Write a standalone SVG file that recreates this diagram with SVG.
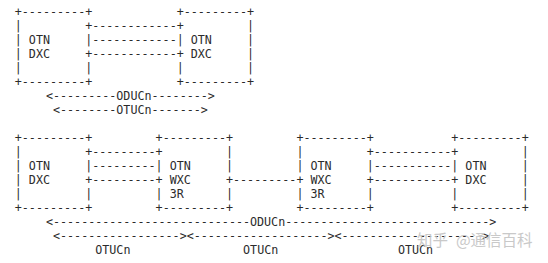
<svg xmlns="http://www.w3.org/2000/svg" width="548" height="263" viewBox="0 0 548 263">
<style>
text{font-family:"DejaVu Sans Mono","Liberation Mono",monospace;font-size:11.69px;fill:#2b2b2b;white-space:pre}
.wm{font-family:"Noto Sans CJK SC","Noto Sans",sans-serif;font-size:15.5px;fill:#c9c9c9;white-space:normal}
</style>
<rect width="548" height="263" fill="#ffffff"/>
<g id="upper-dxc-left">
<text xml:space="preserve" x="14.8" y="15.8">+---------+</text>
<text xml:space="preserve" x="14.8" y="29.8">|         +</text>
<text xml:space="preserve" x="14.8" y="43.8">| OTN     |</text>
<text xml:space="preserve" x="14.8" y="57.8">| DXC     +</text>
<text xml:space="preserve" x="14.8" y="71.8">|         |</text>
<text xml:space="preserve" x="14.8" y="85.8">+---------+</text>
</g>
<g id="upper-dxc-right">
<text xml:space="preserve" x="176.72" y="15.8">+---------+</text>
<text xml:space="preserve" x="176.72" y="29.8">+         |</text>
<text xml:space="preserve" x="176.72" y="43.8">| OTN     |</text>
<text xml:space="preserve" x="176.72" y="57.8">+ DXC     |</text>
<text xml:space="preserve" x="176.72" y="71.8">|         |</text>
<text xml:space="preserve" x="176.72" y="85.8">+---------+</text>
</g>
<g id="lower-dxc-a">
<text xml:space="preserve" x="14.8" y="141.8">+---------+</text>
<text xml:space="preserve" x="14.8" y="155.8">|         +</text>
<text xml:space="preserve" x="14.8" y="169.8">| OTN     |</text>
<text xml:space="preserve" x="14.8" y="183.8">| DXC     +</text>
<text xml:space="preserve" x="14.8" y="197.8">|         |</text>
<text xml:space="preserve" x="14.8" y="211.8">+---------+</text>
</g>
<g id="lower-wxc-b">
<text xml:space="preserve" x="155.6" y="141.8">+---------+</text>
<text xml:space="preserve" x="155.6" y="155.8">+         |</text>
<text xml:space="preserve" x="155.6" y="169.8">| OTN     |</text>
<text xml:space="preserve" x="155.6" y="183.8">+ WXC     +</text>
<text xml:space="preserve" x="155.6" y="197.8">| 3R      |</text>
<text xml:space="preserve" x="155.6" y="211.8">+---------+</text>
</g>
<g id="lower-wxc-c">
<text xml:space="preserve" x="296.4" y="141.8">+---------+</text>
<text xml:space="preserve" x="296.4" y="155.8">|         +</text>
<text xml:space="preserve" x="296.4" y="169.8">| OTN     |</text>
<text xml:space="preserve" x="296.4" y="183.8">+ WXC     +</text>
<text xml:space="preserve" x="296.4" y="197.8">| 3R      |</text>
<text xml:space="preserve" x="296.4" y="211.8">+---------+</text>
</g>
<g id="lower-dxc-d">
<text xml:space="preserve" x="451.28" y="141.8">+---------+</text>
<text xml:space="preserve" x="451.28" y="155.8">+         |</text>
<text xml:space="preserve" x="451.28" y="169.8">| OTN     |</text>
<text xml:space="preserve" x="451.28" y="183.8">+ DXC     |</text>
<text xml:space="preserve" x="451.28" y="197.8">|         |</text>
<text xml:space="preserve" x="451.28" y="211.8">+---------+</text>
</g>
<g id="connectors">
<text x="92.24" y="29.8">------------</text>
<text x="92.24" y="43.8">------------</text>
<text x="92.24" y="57.8">------------</text>
<text x="45.96" y="99.8">&lt;---------ODUCn--------&gt;</text>
<text x="53" y="113.8">&lt;--------OTUCn-------&gt;</text>
<text x="92.24" y="155.8">---------</text>
<text x="92.24" y="169.8">---------</text>
<text x="92.24" y="183.8">---------</text>
<text x="233.04" y="183.8">---------</text>
<text x="373.84" y="155.8">-----------</text>
<text x="373.84" y="169.8">-----------</text>
<text x="373.84" y="183.8">-----------</text>
<text x="45.96" y="225.8">&lt;----------------------------ODUCn-----------------------------&gt;</text>
<text x="53" y="239.8">&lt;-----------------&gt;&lt;-------------------&gt;&lt;--------------------&gt;</text>
<text x="95.24" y="253.8">OTUCn</text>
<text x="243.08" y="253.8">OTUCn</text>
<text x="397.96" y="253.8">OTUCn</text>
</g>
<text class="wm" y="246"><tspan x="417">知乎 </tspan><tspan x="456">@</tspan><tspan x="470.5">通信百科</tspan></text>
</svg>
